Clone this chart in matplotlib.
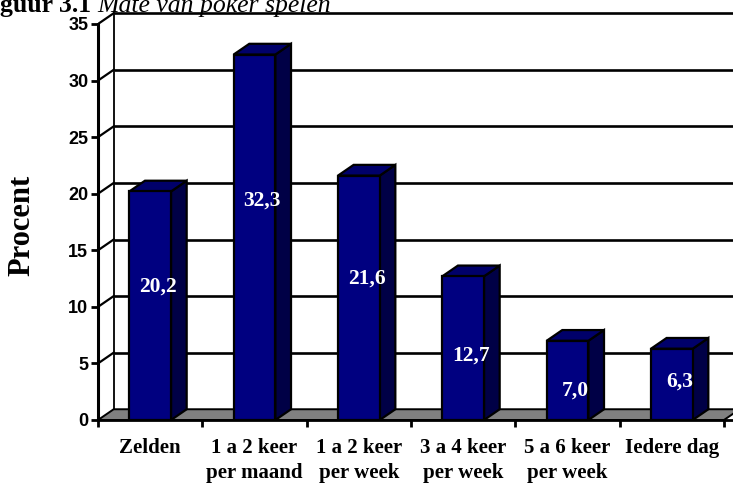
import matplotlib.pyplot as plt
from matplotlib.patches import Polygon, Rectangle

categories = ['Zelden', '1 a 2 keer\nper maand', '1 a 2 keer\nper week',
              '3 a 4 keer\nper week', '5 a 6 keer\nper week', 'Iedere dag']
procent = [20.2, 32.3, 21.6, 12.7, 7.0, 6.3]
value_labels = ['20,2', '32,3', '21,6', '12,7', '7,0', '6,3']
label_y = [11.8, 19.4, 12.5, 5.7, 2.6, 3.4]  # where Excel put the labels
y_ticks = [0, 5, 10, 15, 20, 25, 30, 35]

W, H = 733, 484
fig = plt.figure(figsize=(W / 100, H / 100), dpi=100)

# front plane: x=0 at px 98, x=6 at px 724; y=0 at px 420, y=35 at px 24
px_x = (724 - 98) / 6
px_y = (420 - 24) / 35
ax = fig.add_axes([98 / W, (H - 420) / H, (W - 98) / W, 420 / H])
ax.set_xlim(0, (W - 98) / px_x)
ax.set_ylim(0, 420 / px_y)

dx, dy = 0.15, 0.95   # depth offset of the 3d look
n = len(categories)
top = y_ticks[-1]

# back wall and side wall grid
for v in y_ticks[1:]:
    ax.plot([dx, n + dx], [v + dy, v + dy], color='black', lw=1.9, zorder=1,
            solid_capstyle='butt')
    ax.plot([0, dx], [v, v + dy], color='black', lw=1.6, zorder=1)
ax.plot([dx, dx], [dy, top + dy], color='black', lw=1.3, zorder=1)

# floor
ax.add_patch(Polygon([(0, 0), (n, 0), (n + dx, dy), (dx, dy)], closed=True,
                     facecolor='#808080', edgecolor='black', lw=1.4, zorder=2))

bw = 0.4
for i, v in enumerate(procent):
    x0 = i + (1 - bw) / 2
    x1 = x0 + bw
    ax.add_patch(Polygon([(x1, 0), (x1 + dx, dy), (x1 + dx, v + dy), (x1, v)],
                         closed=True, facecolor='#000046', edgecolor='black',
                         lw=1.6, zorder=3))
    ax.add_patch(Polygon([(x0, v), (x1, v), (x1 + dx, v + dy), (x0 + dx, v + dy)],
                         closed=True, facecolor='#00006a', edgecolor='black',
                         lw=1.6, zorder=3))
    ax.add_patch(Rectangle((x0, 0), bw, v, facecolor='#000080',
                           edgecolor='black', lw=1.6, zorder=4))
    ax.text(i + 0.5 + dx / 2, label_y[i], value_labels[i], color='white',
            ha='center', va='center', fontsize=15.5, fontweight='bold',
            family='Liberation Serif', zorder=5)

for side in ['top', 'right']:
    ax.spines[side].set_visible(False)
ax.spines['left'].set_bounds(0, top)
ax.spines['left'].set_linewidth(2.2)
ax.spines['bottom'].set_linewidth(2.0)
ax.spines['bottom'].set_zorder(2.5)

ax.set_yticks(y_ticks)
ax.set_yticklabels([str(t) for t in y_ticks], fontsize=13, fontweight='bold',
                   family='Liberation Sans')
ax.tick_params(axis='y', direction='out', length=5, width=2, pad=2)

ax.set_xticks(range(n + 1))
ax.set_xticklabels([])
ax.tick_params(axis='x', which='major', direction='out', length=5, width=2)
ax.set_xticks([i + 0.5 for i in range(n)], minor=True)
ax.set_xticklabels(categories, minor=True, fontsize=15, fontweight='bold',
                   family='Liberation Serif', linespacing=1.3)
ax.tick_params(axis='x', which='minor', length=0, pad=13)

fig.text(22 / W, 1 - 225 / H, 'Procent', rotation=90, ha='center', va='center',
         fontsize=22, fontweight='bold', family='Liberation Serif')

# caption, cut off at the top edge in the reference
fig.text(91 / W, 1 - 12 / H, 'Figuur 3.1', ha='right', va='baseline',
         fontsize=18.5, fontweight='bold', family='Liberation Serif')
fig.text(97 / W, 1 - 12 / H, 'Mate van poker spelen', ha='left', va='baseline',
         fontsize=18.5, style='italic', family='Liberation Serif')

fig.savefig('out.png', dpi=100)
